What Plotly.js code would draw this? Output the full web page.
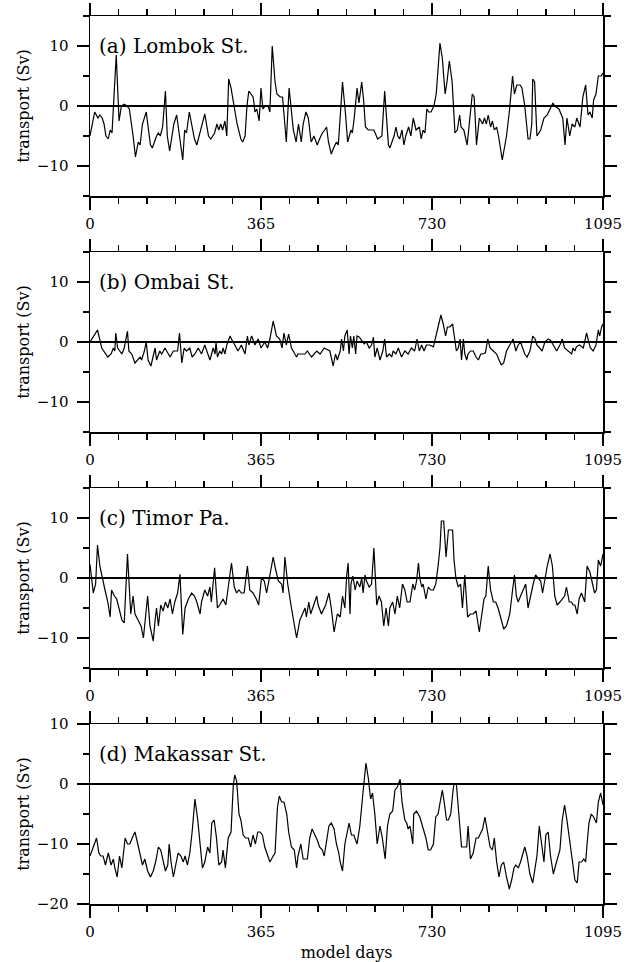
<!DOCTYPE html>
<html><head><meta charset="utf-8">
<script src="https://cdn.plot.ly/plotly-3.0.1.min.js"></script>
<style>html,body{margin:0;padding:0;background:#fff}#chart{width:632px;height:962px}</style>
</head><body><div id="chart"></div>
<script>
// ---------------- data ----------------
const panelNames = ['(a) Lombok St.', '(b) Ombai St.', '(c) Timor Pa.', '(d) Makassar St.'];
const xTickVals = [0, 365, 730, 1095];
const xTickText = ['0', '365', '730', '1095'];
const yTitle = 'transport (Sv)';
const xTitle = 'model days';

const lombokDays = [
  0,10,17,21,26,30,34,39,43,47,
  56,62,67,73,79,84,92,97,103,107,
  112,120,129,133,142,146,150,155,161,165,
  170,179,185,189,198,202,206,212,217,223,
  228,234,245,253,258,266,271,275,279,283,
  288,292,296,301,305,314,322,326,331,335,
  339,348,350,352,356,361,365,369,374,380,
  384,389,395,399,406,411,419,425,434,440,
  445,451,455,461,466,472,478,485,490,496,
  501,505,509,515,520,526,530,539,545,550,
  557,560,564,570,574,580,584,588,594,601,
  606,614,623,629,637,640,649,653,657,661,
  666,670,674,680,685,690,696,703,707,711,
  715,719,723,728,734,739,743,747,752,758,
  762,767,773,779,784,789,792,798,805,816,
  820,825,831,838,842,846,850,855,859,863,
  868,872,880,885,889,895,902,906,911,918,
  922,928,935,939,943,945,949,954,958,962,
  969,976,979,988,992,1001,1009,1014,1018,1024,
  1029,1035,1039,1046,1052,1058,1063,1067,1072,1075,
  1080,1085,1091,1095];
const lombokSv = [
  -5,-1,-2,-1.5,-2,-3,-5,-5.5,-4,-4.5,
  8.5,-2.5,0,0.3,0,-0.5,-5,-8.5,-6,-6.5,
  -3,-1,-6.5,-7,-5,-4.5,-5,-3.5,2.5,-5,
  -7.5,-3,-1.5,-4,-9,-4,-4.5,-1,-3,-5.5,
  -6.5,-4.5,-1.3,-5,-5.5,-4.5,-3,-4,-3,-4,
  -2.5,-5,4.5,3,1,-3,-5.5,-6,-5,0,
  2.5,1.5,0.5,-1,-0.5,-2.5,3,-0.5,0,0,
  -1,10,4,2,1.5,1.5,-6,3,-4,-6,
  -3,-6,-3,-1,-2,-6,-5,-6.5,-5.5,-4.5,
  -4,-3.5,-6,-8,-7,-6,-6.5,4,-1,-6,
  -4,-4.5,-2,3,0.5,4,1,-3.5,-4,-4,
  -4,-5.5,-5,2.5,-6.5,-7,-5,-3.5,-5,-5.5,
  -4,-6.5,-5,-3.5,-5,-2,-4,-3.5,-5.5,-4,
  -4.5,-0.5,-1,-1,0,2,7,10.5,8,2,
  4,7.5,4,-4.5,-4,-1.5,-3.5,-4,-6.5,2,
  1.5,-6.5,-2,-3,-2,-3,-1.5,-3.5,-2.5,-4,
  -3.5,-5,-9,-7,-5,-1,5,2,3.5,3.5,
  3,0,-5.5,-5.5,-3,4.5,4,-5,-4.5,-4,
  -2,-1.5,-1,0.5,0,-0.5,-2,-6.5,-2,-5,
  -3,-3.5,-2,-3.5,1.5,3.5,-1.5,-1,-2,1,
  2,5,5,5.5];

const ombaiDays = [
  0,16,25,38,45,50,53,55,59,64,
  68,73,80,83,89,96,102,107,110,116,
  120,124,130,139,142,149,153,160,171,178,
  187,191,196,201,206,213,218,224,231,238,
  245,256,263,267,269,272,277,281,284,288,
  292,299,302,309,316,323,331,336,339,345,
  352,359,365,373,379,384,391,398,405,410,
  414,419,424,430,441,444,451,459,464,473,
  484,491,500,512,519,524,528,534,537,541,
  544,549,553,556,560,563,567,570,575,580,
  585,590,596,601,605,608,613,619,625,629,
  633,639,644,647,653,658,665,672,679,686,
  693,698,703,708,713,718,725,733,740,744,
  749,754,759,763,768,774,779,782,786,790,
  793,797,800,804,807,812,818,824,829,834,
  839,844,849,854,861,868,873,878,883,889,
  896,903,909,914,919,923,928,933,939,945,
  950,954,960,965,971,978,983,989,996,1003,
  1008,1013,1021,1028,1031,1035,1038,1045,1053,1060,
  1063,1068,1074,1080,1085,1088,1092,1095];
const ombaiSv = [
  0,2,-1,-2.5,-2,-1,-1.5,1.5,-1,-1.5,
  -2,-1,1.8,-1.5,-2,-3.5,-3,-2.5,-3,-1.5,
  0,-3,-4,-1,-3,-1.5,-2,-1,-2.5,-1.5,
  -1.5,1.5,-3.5,-1,-1.5,-1,-2.5,-2,-1,-2,
  -0.5,-3,-1,-2,0,-2.5,-1.5,-2,-1,-2,
  -0.5,1,0.5,-0.5,-1.5,-0.5,-2,1,-0.5,1,
  -0.5,0.5,-1,0,-1,0.5,3.5,1,0.5,-1,
  1.5,-0.5,1.3,-1,-2.5,-2,-2,-2,-1.5,-2.5,
  -1.5,-2,-1,-1.5,-4,-2,-3,-1.5,0.5,-1.5,
  1,2,-2,1,-1,1,-2,1,0.8,0.3,
  -0.3,0,-1,-0.5,0.8,-2.5,-1,-3,-1.5,0.5,
  -2.5,-2,-2.5,-1.5,-2,-1,-2.5,-1.5,-2,-1,
  -1.5,0.5,-1.5,-0.5,-1.5,-0.5,-0.5,-0.8,1.5,2.5,
  4.5,3,1,2.5,2.5,3,0,-1.5,-1,0.5,
  -3,0.5,-2,-3,-2,-1.5,-1.5,-2.5,-3,-2,
  -2,-1.8,0.5,-1,-1.5,-2,-3,-3.8,-3.5,-1.5,
  -0.5,0.5,-1.5,-0.5,0,-1,-2,-2.5,-1.5,1,
  0.5,-0.5,-1,-1.5,0,0.5,0.3,-0.5,-1.5,-0.5,
  0.5,-1,-1.5,-2,-1,-1.5,-0.8,-0.5,-1,1.5,
  0.5,-1,-1.5,-0.5,2,1,2.5,3];

const timorDays = [
  0,7,12,16,21,26,32,38,43,46,
  52,57,64,68,73,80,87,92,96,103,
  109,114,119,123,128,135,139,142,146,151,
  156,161,166,171,176,181,187,192,198,203,
  210,217,223,228,235,238,245,251,256,259,
  266,272,277,284,290,302,308,313,318,323,
  329,336,341,348,355,360,366,372,377,391,
  396,402,409,412,416,422,430,441,448,453,
  459,462,467,471,479,484,487,494,503,510,
  515,521,528,534,539,544,548,551,555,557,
  561,566,570,576,580,583,587,590,596,601,
  606,612,617,622,627,632,637,640,646,651,
  656,661,667,672,677,683,689,693,697,701,
  704,708,711,717,722,727,733,738,743,747,
  750,755,760,765,768,774,777,781,786,791,
  795,800,806,812,818,824,831,836,841,845,
  850,855,861,866,871,878,883,889,896,902,
  906,910,914,919,925,930,935,940,946,951,
  957,962,966,971,976,982,987,992,997,1003,
  1009,1013,1017,1023,1028,1031,1035,1040,1044,1049,
  1056,1061,1067,1072,1077,1081,1085,1090,1095];
const timorSv = [
  2.3,-2.5,-1,5.5,2,0,-2,-4,-6.5,-2,
  -3,-3.5,-5.5,-7,-7.5,4,-6,-3,-6,-7,
  -8,-10,-6,-3,-8,-10.5,-7,-5,-8,-4.5,
  -5.5,-4,-5,-3.5,-6,-4,-2.5,0.6,-9.4,-5,
  -3.5,-2.5,-3,-4,-6,-4,-2,-3,-1.5,-4,
  1.7,-5,-4.5,-3.5,-4.5,2.5,-1.5,-2.5,-2,-2.5,
  -2.5,2,-2,-2.5,-3.5,-4.5,0,-0.5,-2.5,3.5,
  1.5,-0.5,-1,-2.5,3.5,-1,-5,-10,-7,-6,
  -5,-6.5,-4,-6,-4,-3,-4.5,-6,-4.5,-2.5,
  -5,-9,-6,-6.5,-3,-5,0.5,2.5,-6,-1,
  0.3,-2,-0.5,-1.5,0,-2.5,0.5,-0.5,-1.5,-1,
  5,-4.5,-3,-4,-8,-5,-8,-5,-4,-6,
  -3,-5,-1,-2,-4,-4,-1,-2,-0.5,2.5,
  0,-1.5,-1,-3.5,-1.5,-2,-2,-1,2,5,
  9.5,9.5,3.5,8,8,8,3,0,-1.5,-1,
  -5,0.5,-6.5,-6,-6,-5.5,-9,-6,-3.5,-3,
  2,-2,-4,-4,-5,-7,-8.5,-8,-6,-2,
  0.5,-3,-4,-3,-2,-1,-5,-3,-1,0.5,
  0,-0.5,-2.5,0,2,4,2,-3,-4.5,-4,
  -3.5,-3,-1.5,-4,-4,-4.5,-4.5,-6,-3.5,-2.5,
  -4,2,1,-1,-2.5,-2,3,2,4];

const makassarDays = [
  0,7,14,19,23,28,33,39,45,50,
  53,58,63,68,71,75,80,85,90,96,
  102,107,112,117,123,129,135,140,146,151,
  156,161,166,169,173,178,183,188,194,199,
  203,208,213,218,224,230,235,240,245,251,
  256,260,265,270,275,281,284,289,295,301,
  306,309,313,318,322,327,332,338,343,348,
  353,358,363,368,373,379,384,391,395,400,
  404,409,414,420,424,430,436,441,444,450,
  455,460,464,469,474,480,486,490,496,500,
  505,510,515,521,526,531,534,539,544,553,
  558,563,570,576,582,589,594,599,603,608,
  613,619,624,630,635,640,646,651,656,662,
  666,672,676,679,683,689,691,697,704,711,
  717,722,727,733,738,743,747,752,756,761,
  765,770,775,777,782,786,788,793,798,804,
  807,812,818,824,829,834,838,843,848,854,
  859,863,868,873,878,883,889,895,900,905,
  909,914,919,925,928,933,939,945,950,954,
  959,964,969,973,978,983,989,994,999,1003,
  1008,1013,1018,1024,1030,1035,1040,1044,1049,1054,
  1058,1061,1065,1070,1075,1081,1085,1090,1095];
const makassarSv = [
  -12,-10.5,-9,-11.5,-12,-12,-13.5,-11.5,-13.5,-12.5,
  -14,-15.5,-12,-14,-11.5,-9,-10,-10,-9,-8,
  -10,-12,-13.5,-12.5,-14.5,-15.5,-14.5,-13,-10.5,-11,
  -12.5,-14.5,-13.5,-10,-13,-15.5,-13.5,-11.5,-12,-13,
  -12,-13.5,-11.5,-8,-2.5,-6,-10,-14,-13,-10.5,
  -11.5,-6.5,-6,-9,-13.5,-13,-11,-14,-9,-8,
  0,1.5,0.5,-5,-6,-8.5,-9,-9,-10.5,-8.5,
  -10,-8,-8,-8.5,-10.5,-12,-13,-12,-11.5,-4,
  -2,-3,-3,-5,-8,-10.5,-11,-14,-12,-10,
  -12.5,-12.5,-12.5,-9,-7.5,-8.5,-9.5,-10.5,-11,-12,
  -9.5,-7,-6.5,-7.5,-10,-11.5,-13,-14.5,-10,-6.5,
  -8.5,-8.5,-10,-7,-2,3.5,1,-2.5,-1.5,-5,
  -10,-7,-9,-12.5,-7,-5,-4.5,-1,-0.5,0.8,
  -3,-6,-6.5,-7.5,-7,-10,-5,-4.5,-5.5,-7.5,
  -9,-11,-11,-10,-5.5,-5,-3,-1,-3,-6,
  -6,-5,-1,0,0,-4,-7,-10.5,-10.5,-10.5,
  -7,-12.5,-11.5,-9,-9,-8,-7.5,-5.5,-8,-10.5,
  -11,-9,-13,-15.5,-13.5,-13,-15.5,-17.5,-16,-14,
  -13.5,-14,-13,-11,-10.5,-12,-15,-16.5,-14,-12,
  -7,-10,-13,-8.5,-8,-12,-15,-13.5,-12,-11,
  -6,-3.5,-6,-10,-13,-16,-16.5,-13,-13,-12.5,
  -13,-10,-6.5,-5,-5.5,-6.5,-3,-1.5,-3.5];

const seriesDays = [lombokDays, ombaiDays, timorDays, makassarDays];
const seriesSv = [lombokSv, ombaiSv, timorSv, makassarSv];
const yRanges = [[-15, 15], [-15, 15], [-15, 15], [-20, 10]];
const labelY = [10, 10, 10, 5];

// ---------------- layout ----------------
const W = 632, H = 962;
const FONT = 'DejaVu Serif, Liberation Serif, serif';
const xDom = [90 / W, 603 / W];
const panelTop = [16, 252, 488, 724];
const panelH = 180;

const traces = [];
const layout = {
  width: W, height: H,
  margin: {l: 0, r: 0, t: 0, b: 0},
  paper_bgcolor: '#fff', plot_bgcolor: '#fff',
  showlegend: false,
  font: {family: FONT, size: 15, color: '#000'},
  annotations: []
};

for (let i = 0; i < 4; i++) {
  const n = i === 0 ? '' : String(i + 1);
  traces.push({
    x: seriesDays[i], y: seriesSv[i],
    xaxis: 'x' + n, yaxis: 'y' + n,
    type: 'scatter', mode: 'lines',
    line: {color: '#000', width: 1.2},
    hoverinfo: 'skip'
  });
  const top = panelTop[i], bot = top + panelH;
  layout['xaxis' + n] = {
    domain: xDom, range: [0, 1095], anchor: 'y' + n,
    tickmode: 'linear', tick0: 0, dtick: 365,
    ticks: 'outside', ticklen: 12, tickwidth: 1.3, tickcolor: '#000',
    showline: true, linecolor: '#000', linewidth: 1.5, mirror: 'allticks',
    showgrid: false, zeroline: false,
    tickfont: {family: FONT, size: 15, color: '#000'},
    ticklabelstandoff: 1,
    minor: {ticks: 'outside', ticklen: 6, tickwidth: 1.3, tickcolor: '#000',
            dtick: 365 / 6, showgrid: false}
  };
  if (i === 3) {
    layout['xaxis' + n].title = {text: xTitle, font: {family: FONT, size: 16, color: '#000'}, standoff: 8};
  }
  layout['yaxis' + n] = {
    domain: [1 - bot / H, 1 - top / H], range: yRanges[i], anchor: 'x' + n,
    tickmode: 'linear', tick0: 0, dtick: 10,
    ticks: 'outside', ticklen: 12, tickwidth: 1.3, tickcolor: '#000',
    showline: true, linecolor: '#000', linewidth: 1.5, mirror: 'allticks',
    showgrid: false,
    zeroline: true, zerolinecolor: '#000', zerolinewidth: 1.6,
    tickfont: {family: FONT, size: 15, color: '#000'},
    ticklabelstandoff: 5,
    title: {text: yTitle, font: {family: FONT, size: 16, color: '#000'}, standoff: 3},
    minor: {ticks: 'outside', ticklen: 6, tickwidth: 1.3, tickcolor: '#000',
            dtick: 5, showgrid: false}
  };
  layout.annotations.push({
    xref: 'paper', yref: 'y' + n, x: 97 / W, y: labelY[i],
    xanchor: 'left', yanchor: 'middle', showarrow: false,
    text: panelNames[i], font: {family: FONT, size: 20, color: '#000'}
  });
}

Plotly.newPlot('chart', traces, layout, {staticPlot: true, displayModeBar: false});
</script></body></html>
